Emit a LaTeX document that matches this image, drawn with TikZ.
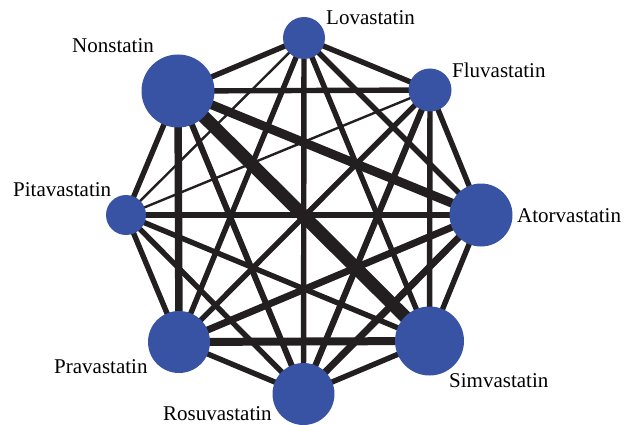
\documentclass[tikz,border=0pt]{standalone}
\usepackage{fontspec}
\setmainfont{Liberation Serif}
\usetikzlibrary{backgrounds}
\definecolor{edgecol}{HTML}{231F20}
\definecolor{nodeblue}{HTML}{3953A4}
\begin{document}
\begin{tikzpicture}[x=1pt,y=-1pt,
  drug/.style={circle,fill=nodeblue,draw=none,inner sep=0pt,minimum size=#1},
  lab/.style={font=\fontsize{21}{25}\selectfont,inner sep=0pt,anchor=base west,text=black},
  edge/.style={draw=edgecol,line width=5.4pt},
  thinedge/.style={draw=edgecol,line width=2.4pt}]
\useasboundingbox (0,0) rectangle (634,425);
% nodes
\node[drug=73pt] (N)  at (178,91)  {};
\node[drug=42pt] (L)  at (304,38)  {};
\node[drug=43pt] (F)  at (430,90)  {};
\node[drug=63pt] (A)  at (481,215) {};
\node[drug=69pt] (S)  at (429.5,341) {};
\node[drug=62pt] (R)  at (303.5,394) {};
\node[drug=62pt] (P)  at (179,342) {};
\node[drug=40pt] (Pi) at (126,215) {};
% labels
\node[lab] (lL)  at (326,25)  {Lovastatin};
\node[lab] (lN)  at (72,53)   {Nonstatin};
\node[lab] (lF)  at (452,78)  {Fluvastatin};
\node[lab] (lPi) at (13,196)  {Pitavastatin};
\node[lab] (lA)  at (517,222) {Atorvastatin};
\node[lab] (lP)  at (54,373)  {Pravastatin};
\node[lab] (lS)  at (449,387) {Simvastatin};
\node[lab] (lR)  at (163,420) {Rosuvastatin};
% edges
\begin{scope}[on background layer]
\fill[white] (0,0) rectangle (634,425);
\draw[edge] (N.center) -- (L.center);
\draw[edge] (N.center) -- (F.center);
\draw[edge,line width=9pt] (N.center) -- (A.center);
\draw[edge,line width=13pt] (N.center) -- (S.center);
\draw[edge,line width=6pt] (N.center) -- (R.center);
\draw[edge,line width=7.5pt] (N.center) -- (P.center);
\draw[edge] (N.center) -- (Pi.center);
\draw[edge] (L.center) -- (F.center);
\draw[edge] (L.center) -- (A.center);
\draw[edge] (L.center) -- (S.center);
\draw[edge] (L.center) -- (R.center);
\draw[edge] (L.center) -- (P.center);
\draw[thinedge] (L.center) -- (Pi.center);
\draw[edge] (F.center) -- (A.center);
\draw[edge] (F.center) -- (S.center);
\draw[edge,line width=6.2pt] (F.center) -- (R.center);
\draw[edge] (F.center) -- (P.center);
\draw[thinedge] (F.center) -- (Pi.center);
\draw[edge] (A.center) -- (S.center);
\draw[edge,line width=7pt] (A.center) -- (R.center);
\draw[edge,line width=7pt] (A.center) -- (P.center);
\draw[edge] (A.center) -- (Pi.center);
\draw[edge] (S.center) -- (R.center);
\draw[edge,line width=8pt] (S.center) -- (P.center);
\draw[edge] (S.center) -- (Pi.center);
\draw[edge] (R.center) -- (P.center);
\draw[edge] (R.center) -- (Pi.center);
\draw[edge] (P.center) -- (Pi.center);
\end{scope}
\end{tikzpicture}
\end{document}
